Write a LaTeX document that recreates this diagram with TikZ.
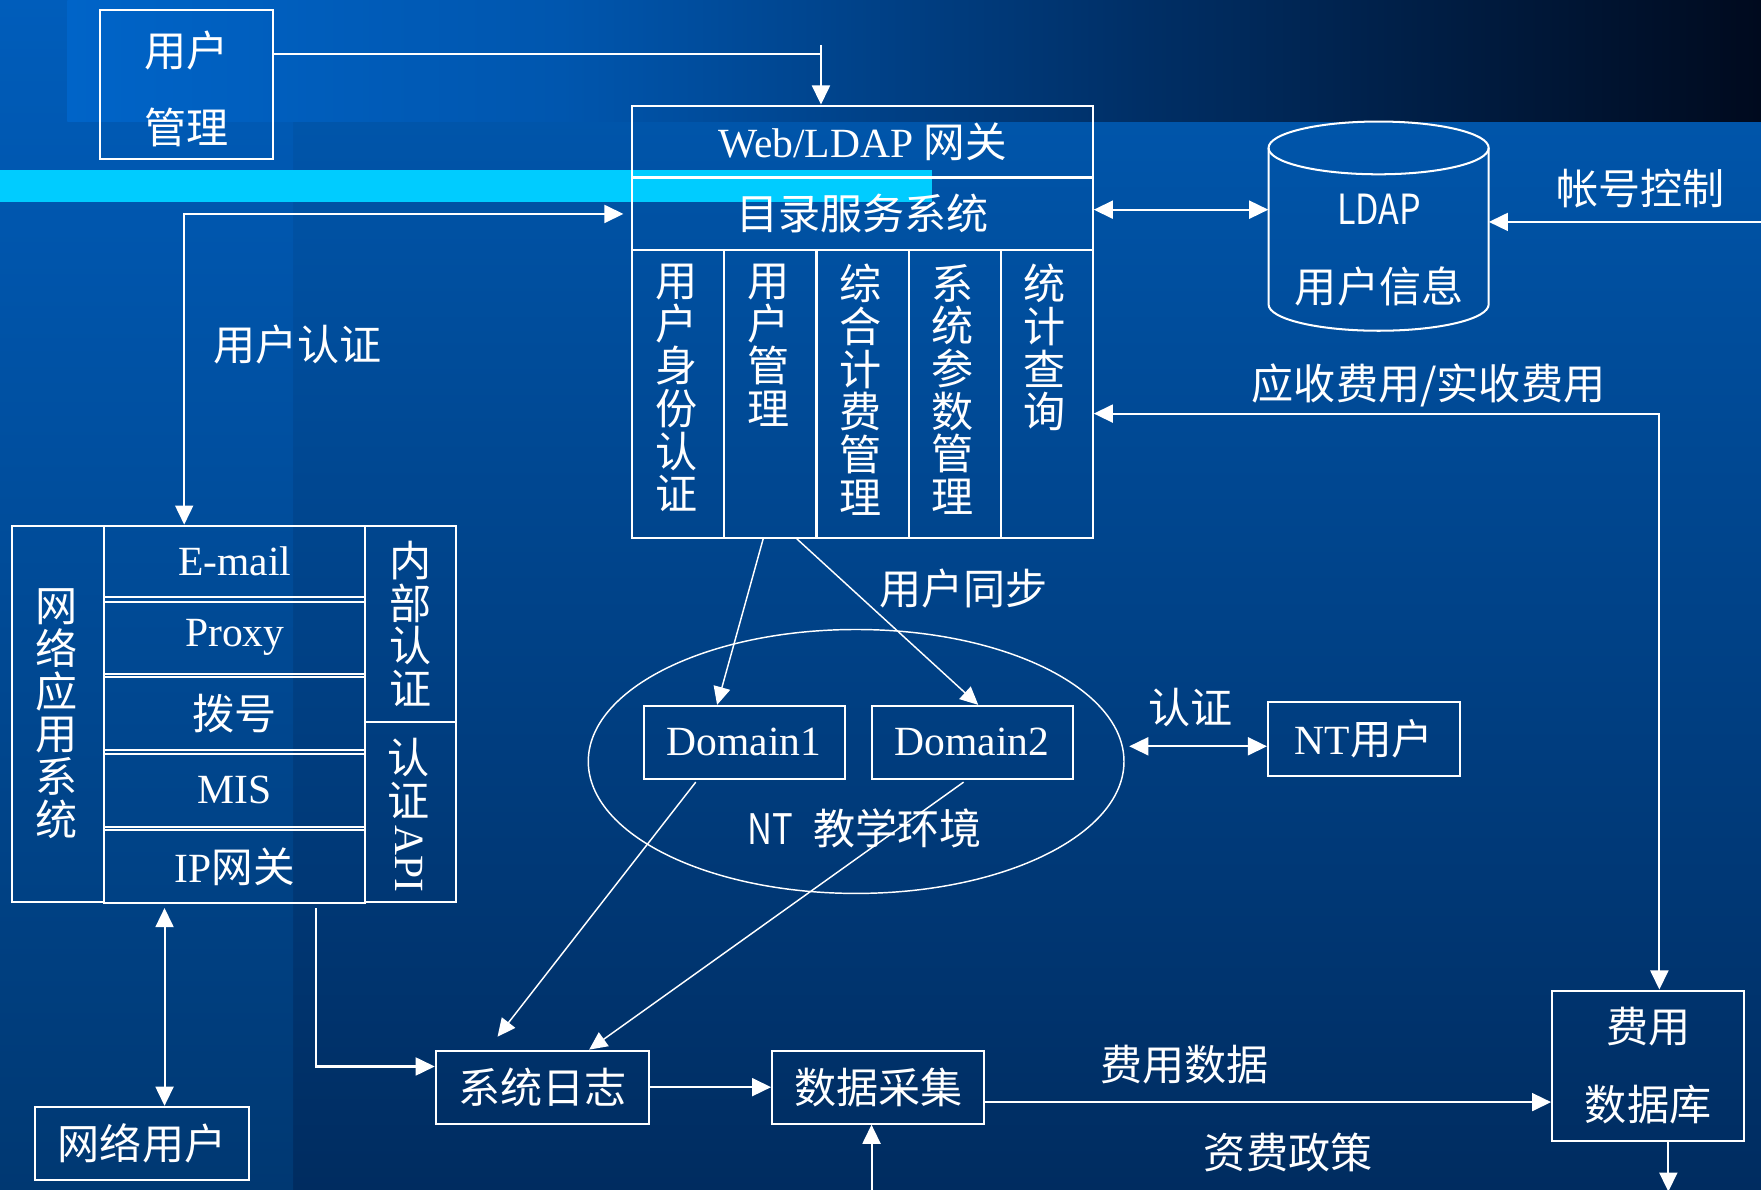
\documentclass[tikz,border=0pt]{standalone}
\usepackage{fontspec}
\usepackage{graphicx}
\setmainfont{Liberation Serif}
\newfontfamily\cjk{Noto Sans CJK SC}
\newfontfamily\cjkn[FakeStretch=0.82]{Noto Sans CJK SC}
\usetikzlibrary{arrows.meta,shapes.geometric,calc}
\definecolor{bgtop}{HTML}{0055AA}
\definecolor{bgbot}{HTML}{002C60}
\definecolor{lstop}{HTML}{005DBB}
\definecolor{lsbot}{HTML}{003872}
\definecolor{bandA}{HTML}{0064C8}
\definecolor{bandB}{HTML}{0056AE}
\definecolor{bandC}{HTML}{003068}
\definecolor{bandD}{HTML}{000A1E}
\definecolor{cyanbar}{HTML}{00CCFF}
\begin{document}
\begin{tikzpicture}[x=1pt,y=-1pt,
  ln/.style={draw=white, line width=1.8pt},
  box/.style={ln, rectangle, inner sep=0pt},
  tipA/.tip={Triangle[length=17pt,width=16pt]},
  arr/.style={ln, -tipA},
  darr/.style={ln, tipA-tipA},
  thinln/.style={draw=white, line width=1.3pt},
  tarr/.style={thinln, -{Triangle[length=16pt,width=15pt]}},
  zh/.style={text=white, font=\cjk\fontsize{37.5}{38}\selectfont, inner sep=0pt, align=center},
  lat/.style={text=white, font=\fontsize{37}{38}\selectfont, inner sep=0pt, align=center},
]
% ---------- background ----------
\shade[top color=bgtop, bottom color=bgbot] (0,108) rectangle (1568,1059);
\shade[top color=lstop, bottom color=lsbot] (0,0) rectangle (261,1059);
\shade[left color=bandA, right color=bandB] (60,0) rectangle (501,108);
\shade[left color=bandB, right color=bandC] (500,0) rectangle (1001,108);
\shade[left color=bandC, right color=bandD] (1000,0) rectangle (1568,108);
\fill[cyanbar] (0,151.3) rectangle (830,179.6);
\useasboundingbox (0,0) rectangle (1568,1059);

% ---------- user management ----------
\node[box, minimum width=154, minimum height=133] (mgmt) at (166,75.5) {};
\node[zh] (mgmtt) at (166,79) {用户\\[30.5pt]管理};

% ---------- central block ----------
\node[box, lat, minimum width=410, minimum height=64] (gw) at (768,126) {Web/LDAP {\cjk 网关}};
\node[box, zh, minimum width=410, minimum height=64.5] (dir) at (768,190.5) {目录服务系统};
\node[box, minimum width=82, minimum height=256.5] (c1) at (604,350.75) {};
\node[box, minimum width=82, minimum height=256.5] (c2) at (686,350.75) {};
\node[box, minimum width=82, minimum height=256.5] (c3) at (768,350.75) {};
\node[box, minimum width=82, minimum height=256.5] (c4) at (850,350.75) {};
\node[box, minimum width=82, minimum height=256.5] (c5) at (932,350.75) {};
\node[zh, anchor=north] (t1) at (602,235) {用\\户\\身\\份\\认\\证};
\node[zh, anchor=north] (t2) at (684,235) {用\\户\\管\\理};
\node[zh, anchor=north] (t3) at (766,235) {综\\合\\计\\费\\管\\理};
\node[zh, anchor=north] (t4) at (848,235) {系\\统\\参\\数\\管\\理};
\node[zh, anchor=north] (t5) at (930,235) {统\\计\\查\\询};

% ---------- LDAP cylinder ----------
\node[minimum width=196, minimum height=186.5, inner sep=0pt] (ldap) at (1227.5,201.5) {};
\draw[ln] (1227.5,131.7) ellipse [x radius=98pt, y radius=23.5pt];
\draw[ln] (1129.5,131.7) -- (1129.5,271) arc[start angle=180, end angle=360, x radius=98pt, y radius=23.5pt] -- (1325.5,131.7);
\node[text=white, font=\cjkn\fontsize{37}{38}\selectfont, inner sep=0pt] (ldapt) at (1228,186) {LDAP};
\node[zh] (ldapu) at (1228,255) {用户信息};

% ---------- left application block ----------
\node[box, zh, minimum width=82, minimum height=335] (lsys) at (52,635.5) {};
\node[zh] (lsyst) at (50,635.5) {网\\络\\应\\用\\系\\统};
\node[box, lat, minimum width=232, minimum height=64] (email) at (209,500) {E-mail};
\node[box, lat, minimum width=232, minimum height=64.4] (proxy) at (209,567.8) {Proxy};
\node[box, zh, minimum width=232, minimum height=65] (dial) at (209,635.5) {拨号};
\node[box, lat, minimum width=232, minimum height=65] (mis) at (209,703.5) {MIS};
\node[box, lat, minimum width=232, minimum height=65] (ipgw) at (209,771.5) {IP{\cjk 网关}};
\node[box, zh, minimum width=81, minimum height=175] (rin) at (365.5,555.5) {内\\部\\认\\证};
\node[box, minimum width=81, minimum height=160] (rapi) at (365.5,723) {};
\node[zh, anchor=north] (rapit) at (364,657) {认\\证\\{\fontspec{Liberation Serif}\fontsize{37}{38}\selectfont\raisebox{30pt}{\rotatebox{-90}{API}}}};

% ---------- network users ----------
\node[box, zh, minimum width=190, minimum height=65] (nu) at (126.5,1018) {网络用户};

% ---------- NT environment ----------
\node[ellipse, draw=white, line width=1.3pt, minimum width=477, minimum height=235, inner sep=0pt] (env) at (762.3,678) {};
\node[box, lat, minimum width=179, minimum height=65] (d1) at (662.5,661) {Domain1};
\node[box, lat, minimum width=179, minimum height=65] (d2) at (865.5,661) {Domain2};
\node[zh] (envt) at (770,738) {{\cjkn NT}\hspace{18pt}教学环境};
\node[box, lat, minimum width=171, minimum height=65.5] (ntu) at (1214.5,658) {NT{\cjk 用户}};

% ---------- bottom row ----------
\node[box, zh, minimum width=190, minimum height=65] (syslog) at (483,968) {系统日志};
\node[box, zh, minimum width=189, minimum height=65] (collect) at (782,968) {数据采集};
\node[box, zh, minimum width=171, minimum height=134] (fdb) at (1467.5,949) {费用\\[31pt]数据库};

% ---------- labels ----------
\node[zh] (lbAuth) at (265,307) {用户认证};
\node[zh] (lbAcct) at (1461,168) {帐号控制};
\node[zh] (lbFee) at (1272,343) {应收费用/实收费用};
\node[zh] (lbSync) at (858,524) {用户同步};
\node[zh] (lbNtAuth) at (1060,630) {认证};
\node[zh] (lbData) at (1055,948) {费用数据};
\node[zh] (lbPolicy) at (1147,1026) {资费政策};

% ---------- connectors ----------
\coordinate (uTick) at (731,40);
\draw[ln] ([yshift=27.5pt]mgmt.east) -| (uTick);
\draw[arr] (uTick) -- (uTick |- gw.north);

\draw[darr] ([xshift=-45pt]email.north) |- ([xshift=-7pt]dir.west);

\coordinate (dirE) at ([yshift=3.8pt]dir.east);
\draw[darr] (dirE) -- (dirE -| ldap.west);

\coordinate (acct) at (1572,197.6);
\draw[arr] (acct) -- (acct -| ldap.east);

\draw[darr] ([xshift=10pt]fdb.north) |- ([yshift=-17.5pt]c5.east);

\draw[tarr] ([xshift=-6.5pt]c2.south) -- ([xshift=-24pt]d1.north);
\draw[tarr] ([xshift=23.6pt]c2.south) -- ([xshift=5.5pt]d2.north);
\draw[tarr] ([xshift=-43pt,yshift=-2pt]d1.south) -- ([xshift=-40pt,yshift=11.5pt]syslog.north);
\draw[tarr] ([xshift=-7.5pt,yshift=-2pt]d2.south) -- ([xshift=41.6pt]syslog.north);

\coordinate (envR) at ([xshift=4pt,yshift=13.5pt]env.east);
\coordinate (ntL) at ([yshift=-6.5pt]ntu.west);
\draw[darr] (envR) -- (ntL);

\coordinate (nuT) at ([xshift=20pt]nu.north);
\coordinate (nuA) at (nuT |- ipgw.south);
\draw[darr] ([yshift=-3.6pt]nuA) -- (nuT);

\coordinate (lbOut) at ([xshift=72.3pt,yshift=-3.6pt]ipgw.south);
\coordinate (slIn) at ([yshift=18.4pt]syslog.west);
\draw[arr] (lbOut) |- (slIn);

\draw[arr] (syslog) -- (collect);

\coordinate (cIn) at (776,1062);
\draw[arr] (cIn) -- (cIn |- collect.south);

\coordinate (cE) at ([yshift=-13.3pt]collect.east);
\draw[arr] (cE) -- (cE -| fdb.west);

\coordinate (fB) at ([xshift=18pt]fdb.south);
\coordinate (fOut) at (1485.5,1061);
\draw[arr] (fB) -- (fOut);
\end{tikzpicture}
\end{document}
